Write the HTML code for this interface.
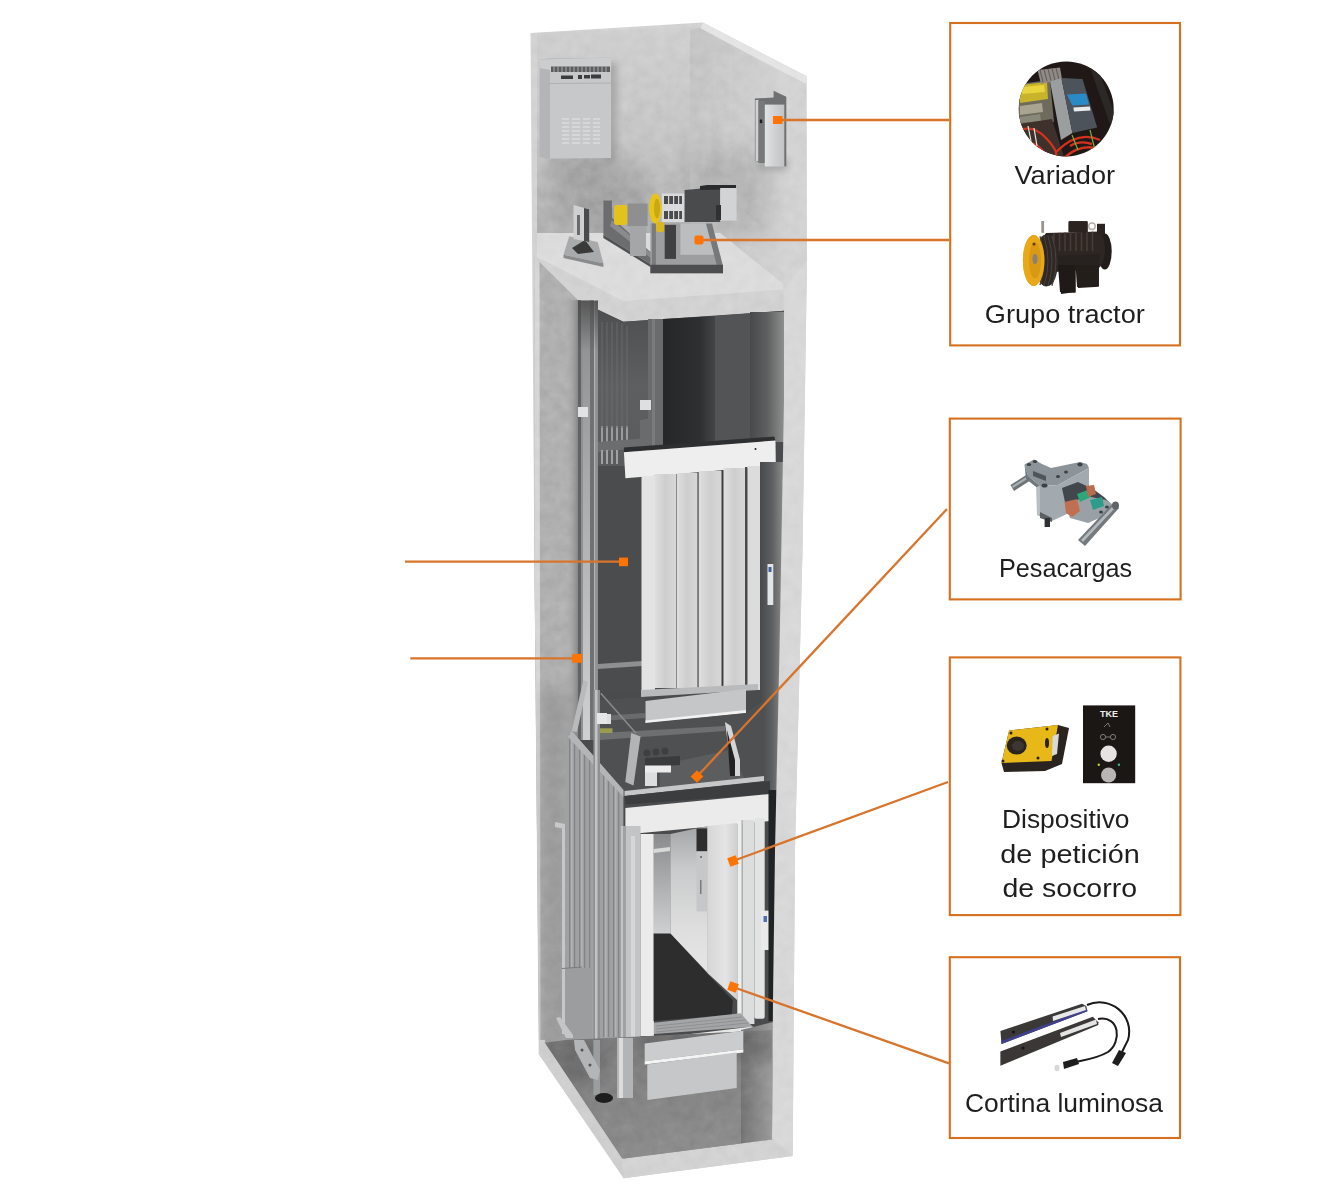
<!DOCTYPE html>
<html><head><meta charset="utf-8">
<style>
html,body{margin:0;padding:0;background:#fff;width:1334px;height:1199px;overflow:hidden}
svg{display:block}
text{font-family:"Liberation Sans",sans-serif;fill:#1e1e1e;font-size:25px}
</style></head><body>
<svg width="1334" height="1199" viewBox="0 0 1334 1199">
<defs>
  <clipPath id="cRoom"><polygon points="537,33 703,26 790,76 790,290 537,257"/></clipPath>
  <filter id="fConcrete" x="0" y="0" width="1334" height="1199" filterUnits="userSpaceOnUse" color-interpolation-filters="sRGB">
    <feTurbulence type="fractalNoise" baseFrequency="0.09" numOctaves="3" seed="11"/>
    <feColorMatrix type="matrix" values="0.13 0 0 0 0.435  0.13 0 0 0 0.435  0.13 0 0 0 0.435  0 0 0 0 1"/>
  </filter>
  <clipPath id="cTexRoom"><polygon points="530.5,33 703,22.6 806.7,76.3 807,260 783.4,310.8 623.4,321.7 534.4,257"/></clipPath>
  <clipPath id="cTexSlab"><polygon points="537,233 720,233 783.4,284 783.4,310.8 623.4,321.7 537,257"/></clipPath>
  <clipPath id="cTexLeft"><polygon points="534.4,257 578,300 578,1053 539.1,1052.4 534.4,560"/></clipPath>
  <clipPath id="cTexRight"><polygon points="784,290 807,260 802.5,550 795,850 792.7,1154.6 772,1139.4 773,1000 775,850 779.5,650 784,400"/><polygon points="538.7,1054 539.5,1040 545,1040 544.7,1042.7 622.1,1158.8 772,1139.4 792.7,1156 623.5,1178.2"/></clipPath>
  <clipPath id="cTexPit"><polygon points="544.7,1042.7 566,1040 772,1030 772,1139.4 622.1,1158.8"/></clipPath>
  <filter id="blur12" x="-50%" y="-50%" width="200%" height="200%"><feGaussianBlur stdDeviation="12"/></filter>
  <filter id="blur6" x="-50%" y="-50%" width="200%" height="200%"><feGaussianBlur stdDeviation="6"/></filter>
  <filter id="blur3" x="-50%" y="-50%" width="200%" height="200%"><feGaussianBlur stdDeviation="3"/></filter>
  <linearGradient id="gWallEdge" x1="0" y1="0" x2="1" y2="0">
    <stop offset="0" stop-color="#b0b0b0" stop-opacity="0"/><stop offset="1" stop-color="#868686"/>
  </linearGradient>
  <linearGradient id="gBack" x1="0" y1="0" x2="0" y2="1">
    <stop offset="0" stop-color="#d0d0d0"/><stop offset="0.6" stop-color="#c4c4c4"/><stop offset="1" stop-color="#b2b2b2"/>
  </linearGradient>
  <linearGradient id="gGapR" x1="0" y1="0" x2="1" y2="0">
    <stop offset="0" stop-color="#48494a"/><stop offset="0.5" stop-color="#5e5f60"/><stop offset="1" stop-color="#8e8e8e"/>
  </linearGradient>
  <linearGradient id="gPanel" x1="0" y1="0" x2="1" y2="0">
    <stop offset="0" stop-color="#dedede"/><stop offset="0.5" stop-color="#cecece"/><stop offset="1" stop-color="#d8d8d8"/>
  </linearGradient>
  <linearGradient id="gPitR" x1="0" y1="0" x2="1" y2="0">
    <stop offset="0" stop-color="#747474"/><stop offset="1" stop-color="#9c9c9c"/>
  </linearGradient>
  <linearGradient id="gPit" x1="0" y1="0" x2="0.3" y2="1">
    <stop offset="0" stop-color="#7a7a7a"/><stop offset="1" stop-color="#8c8c8c"/>
  </linearGradient>
  <linearGradient id="gBox" x1="0" y1="0" x2="1" y2="0">
    <stop offset="0" stop-color="#e2e3e4"/><stop offset="0.5" stop-color="#d0d1d2"/><stop offset="1" stop-color="#c2c3c4"/>
  </linearGradient>
  <linearGradient id="gCarBack" x1="0" y1="0" x2="0" y2="1">
    <stop offset="0" stop-color="#8a8b8c"/><stop offset="0.6" stop-color="#b4b5b6"/><stop offset="1" stop-color="#cfd0d1"/>
  </linearGradient>
  <linearGradient id="gCarSide" x1="0" y1="0" x2="0" y2="1">
    <stop offset="0" stop-color="#a4a5a6"/><stop offset="0.3" stop-color="#cacbcc"/><stop offset="0.7" stop-color="#dedede"/><stop offset="1" stop-color="#e6e6e6"/>
  </linearGradient>
  <linearGradient id="gCarDoor" x1="0" y1="0" x2="1" y2="0">
    <stop offset="0" stop-color="#d6d6d7"/><stop offset="0.6" stop-color="#e4e4e5"/><stop offset="1" stop-color="#cfcfd0"/>
  </linearGradient>
  <linearGradient id="gUpL" x1="0" y1="0" x2="0" y2="1">
    <stop offset="0" stop-color="#4e4f51"/><stop offset="0.5" stop-color="#5e5f61"/><stop offset="1" stop-color="#5a5b5d"/>
  </linearGradient>
  <linearGradient id="gUpD" x1="0" y1="0" x2="1" y2="0">
    <stop offset="0" stop-color="#262728"/><stop offset="0.7" stop-color="#2e2f30"/><stop offset="1" stop-color="#444546"/>
  </linearGradient>
  <linearGradient id="gRailV" x1="0" y1="0" x2="0" y2="1">
    <stop offset="0" stop-color="#8a8b8d"/><stop offset="0.4" stop-color="#a8a9ab"/><stop offset="1" stop-color="#cfd0d1"/>
  </linearGradient>
  <linearGradient id="gRailTop" x1="0" y1="0" x2="0" y2="1">
    <stop offset="0" stop-color="#4a4a4a" stop-opacity="0.8"/><stop offset="1" stop-color="#4a4a4a" stop-opacity="0"/>
  </linearGradient>
  <linearGradient id="gSide" x1="0" y1="0" x2="1" y2="0">
    <stop offset="0" stop-color="#c4c4c4"/><stop offset="1" stop-color="#d4d4d4"/>
  </linearGradient>
</defs>
<rect width="1334" height="1199" fill="#fff"/>

<!-- SHAFT -->
<g id="shaft">
  <!-- outer silhouette (front faces of concrete) -->
  <polygon points="530.5,33 703,22.6 806.7,76.3 807,260 802.5,550 795,850 792.7,1156 623.5,1178.2 538.7,1054 534.4,560" fill="#d3d3d3"/>
  <!-- top rim of right wall -->
  <polygon points="703,22.6 806.7,76.3 806.7,84 700,30" fill="#e4e4e4"/>
  <!-- machine room interior back wall -->
  <polygon points="537,33 700,27 690,33 690,233 537,233" fill="url(#gBack)"/>
  <!-- machine room right side wall (inner face) -->
  <polygon points="690,30 700,28 790,76 790,290 720,233 690,233" fill="url(#gSide)"/>
  <!-- shadow lower-left machine room -->
  <g clip-path="url(#cRoom)"><ellipse cx="600" cy="195" rx="50" ry="38" fill="#858585" opacity="0.38" filter="url(#blur12)"/>
  <rect x="548" y="150" width="60" height="30" fill="#909090" opacity="0.35" filter="url(#blur6)"/>
  <rect x="690" y="150" width="80" height="85" fill="#8f8f8f" opacity="0.35" filter="url(#blur12)"/></g>
  <rect x="500" y="0" width="330" height="1199" filter="url(#fConcrete)" clip-path="url(#cTexRoom)" style="mix-blend-mode:overlay"/>
  <!-- cabinet -->
  <g>
    <rect x="605" y="62" width="12" height="100" fill="#8a8a8a" opacity="0.5" filter="url(#blur3)" clip-path="url(#cRoom)"/>
    <polygon points="539.5,59.5 548,58.5 611,57.5 611,158 548,158.5 539.5,157" fill="#b3b5b7"/>
    <polygon points="550,70 611,69 611,158 550,158.5" fill="#c6c8ca"/>
    <polygon points="539.5,59.5 611,57.5 611,69 550,70 539.5,68" fill="#cbcdce"/>
    <rect x="551" y="66.5" width="59" height="5.5" fill="#5a5c5e"/>
    <g stroke="#c0c2c4" stroke-width="0.8"><line x1="554" y1="66.5" x2="554" y2="72"/><line x1="558" y1="66.5" x2="558" y2="72"/><line x1="562" y1="66.5" x2="562" y2="72"/><line x1="566" y1="66.5" x2="566" y2="72"/><line x1="570" y1="66.5" x2="570" y2="72"/><line x1="574" y1="66.5" x2="574" y2="72"/><line x1="578" y1="66.5" x2="578" y2="72"/><line x1="582" y1="66.5" x2="582" y2="72"/><line x1="586" y1="66.5" x2="586" y2="72"/><line x1="590" y1="66.5" x2="590" y2="72"/><line x1="594" y1="66.5" x2="594" y2="72"/><line x1="598" y1="66.5" x2="598" y2="72"/><line x1="602" y1="66.5" x2="602" y2="72"/><line x1="606" y1="66.5" x2="606" y2="72"/></g>
    <g fill="#3a3c3e"><rect x="561" y="75.5" width="12" height="3.5"/><rect x="578" y="75" width="4" height="4"/><rect x="584" y="75" width="6" height="3.5"/><rect x="591" y="74.5" width="10" height="4"/></g>
    <line x1="550" y1="83.5" x2="611" y2="83" stroke="#a8aaac" stroke-width="0.8"/>
    <g stroke="#dfe0e1" stroke-width="1.3">
      <line x1="562" y1="119" x2="569" y2="119"/><line x1="562" y1="123" x2="569" y2="123"/><line x1="562" y1="127" x2="569" y2="127"/><line x1="562" y1="131" x2="569" y2="131"/><line x1="562" y1="135" x2="569" y2="135"/><line x1="562" y1="139" x2="569" y2="139"/><line x1="562" y1="143" x2="569" y2="143"/>
      <line x1="572" y1="119" x2="580" y2="119"/><line x1="572" y1="123" x2="580" y2="123"/><line x1="572" y1="127" x2="580" y2="127"/><line x1="572" y1="131" x2="580" y2="131"/><line x1="572" y1="135" x2="580" y2="135"/><line x1="572" y1="139" x2="580" y2="139"/><line x1="572" y1="143" x2="580" y2="143"/>
      <line x1="583" y1="119" x2="590" y2="119"/><line x1="583" y1="123" x2="590" y2="123"/><line x1="583" y1="127" x2="590" y2="127"/><line x1="583" y1="131" x2="590" y2="131"/><line x1="583" y1="135" x2="590" y2="135"/><line x1="583" y1="139" x2="590" y2="139"/><line x1="583" y1="143" x2="590" y2="143"/>
      <line x1="593" y1="119" x2="600" y2="119"/><line x1="593" y1="123" x2="600" y2="123"/><line x1="593" y1="127" x2="600" y2="127"/><line x1="593" y1="131" x2="600" y2="131"/><line x1="593" y1="135" x2="600" y2="135"/><line x1="593" y1="139" x2="600" y2="139"/><line x1="593" y1="143" x2="600" y2="143"/>
    </g>
  </g>
  <!-- wall box (variador) -->
  <g>
    <rect x="758" y="160" width="30" height="10" fill="#8a8a8a" opacity="0.5" filter="url(#blur3)"/>
    <polygon points="754.9,98.6 773.6,97.4 773.6,90.7 786.3,96.7 786.3,166.5 754.9,161" fill="#6e7072"/>
    <rect x="755.5" y="100" width="3" height="61" fill="#cfd1d2"/>
    <rect x="758.5" y="101" width="6.3" height="62" fill="#76787a"/>
    <rect x="759.8" y="119.5" width="2.4" height="3.6" fill="#1e1e1e"/>
    <rect x="764.8" y="104.6" width="19.5" height="61.9" fill="url(#gBox)"/>
  </g>
  <!-- slab -->
  <polygon points="537,233 720,233 783.4,284 783.4,310.8 623.4,321.7 537,257" fill="#dcdcdc"/>
  <polygon points="537,257 623.4,301 783.4,289.5 783.4,310.8 623.4,321.7" fill="#d2d2d2"/>
  <rect x="500" y="0" width="330" height="1199" filter="url(#fConcrete)" clip-path="url(#cTexSlab)" style="mix-blend-mode:overlay"/>
  <!-- machine -->
  <g>
    <!-- rope hitch -->
    <polygon points="569.2,236.3 597.7,242 603.4,263.3 563.5,254.8" fill="#a9aaab"/>
    <polygon points="563.5,254.8 603.4,263.3 603.4,267 563.5,258" fill="#8a8b8c"/>
    <polygon points="572,248 585,240 594,252 578,254" fill="#3a3a3a"/>
    <polygon points="573.5,205 589.2,209.2 589.2,242 573.5,239" fill="#cfd0d1"/>
    <polygon points="584,208 589.2,209.2 589.2,242 584,241" fill="#4a4b4c"/>
    <rect x="577" y="215" width="3" height="20" fill="#6a6b6c"/>
    <!-- bedplate -->
    <polygon points="603.4,200.6 612,200.6 612,217.7 655,256 652,265 603.4,234.8" fill="#6c6d6f"/>
    <polygon points="612,220 652,254 652,259 610,226" fill="#8a8b8d"/>
    <polygon points="603.4,234.8 652,265 652,268 603.4,238" fill="#505153"/>
    <!-- cylinders -->
    <rect x="614" y="205" width="13.6" height="19.9" rx="3" fill="#e3c21e"/>
    <rect x="627.6" y="203.5" width="20" height="22.8" fill="#8e8f91"/>
    <rect x="630" y="226" width="16" height="30" fill="#a5a6a8"/>
    <!-- A-frame stand -->
    <polygon points="650.4,223.4 706,223.4 721.7,266.2 723,273.3 650.4,273.3" fill="#9d9e9f"/>
    <polygon points="680.4,223.4 706,223.4 716,254.8 680.4,254.8" fill="#bcbdbe"/>
    <polygon points="706,223.4 712,223.4 723,266 717,266" fill="#77787a"/>
    <rect x="664.7" y="224.9" width="11.3" height="34" fill="#3f4042"/>
    <rect x="651.9" y="223.4" width="4" height="44" fill="#7a7b7c"/>
    <polygon points="650.4,264.7 723,264.7 723,273.3 650.4,273.3" fill="#4d4e50"/>
    <rect x="656" y="222" width="8" height="10" rx="2" fill="#d8b820"/>
    <!-- yellow disc -->
    <ellipse cx="655.4" cy="208.5" rx="6.4" ry="15" fill="#e6c41a"/>
    <ellipse cx="657" cy="208.5" rx="3" ry="10" fill="#c9a810"/>
    <!-- brake block -->
    <rect x="661.8" y="193.5" width="22.8" height="28.5" fill="#d9dadb"/>
    <g fill="#4a4b4d"><rect x="664" y="196" width="18" height="8"/><rect x="664" y="211" width="18" height="8"/></g>
    <g fill="#d9dadb"><rect x="668" y="196" width="1.2" height="8"/><rect x="673" y="196" width="1.2" height="8"/><rect x="678" y="196" width="1.2" height="8"/><rect x="668" y="211" width="1.2" height="8"/><rect x="673" y="211" width="1.2" height="8"/><rect x="678" y="211" width="1.2" height="8"/></g>
    <!-- motor -->
    <polygon points="684.6,190 707.4,188 720.2,188 720.2,222 684.6,222" fill="#4a4b4d"/>
    <polygon points="700,186 707.4,185 736,185 736,189.2 700,190" fill="#2a2b2c"/>
    <rect x="720.2" y="188" width="16.4" height="32.6" fill="#d2d3d4"/>
    <rect x="716" y="205" width="5" height="15" fill="#303132"/>
  </g>
  <!-- ======= BELOW SLAB ======= -->
  <!-- left wall front face -->
  <polygon points="534.4,257 578,300 578,1053 539.1,1052.4 534.4,560" fill="#b0b0b0"/>
  <polygon points="534.4,257 539.5,262 540.5,1046 539.1,1052.4 534.4,560" fill="#d6d6d6"/>
  <rect x="500" y="0" width="330" height="1199" filter="url(#fConcrete)" clip-path="url(#cTexLeft)" style="mix-blend-mode:overlay"/>
  <rect x="566" y="300" width="12" height="760" fill="url(#gWallEdge)"/>
  <!-- interior base -->
  <polygon points="578,300 623.4,321.7 784.3,310.8 784,1139 624,1159.7 578,1090" fill="#4a4b4d"/>
  <!-- upper shaft interior -->
  <polygon points="598,310 623.4,321.7 650,320 650,466 598,466" fill="url(#gUpL)"/>
  <rect x="648" y="319" width="15" height="127" fill="#6a6b6d"/>
  <rect x="652" y="319" width="3" height="127" fill="#7a7b7d"/>
  <polygon points="663,319 715,316 715,446 663,446" fill="url(#gUpD)"/>
  <polygon points="715,316 784.3,310.8 784.3,440 715,446" fill="#535455"/>
  <rect x="750" y="312" width="34" height="130" fill="url(#gGapR)"/>
  <!-- ropes / cwt top -->
  <g fill="#9a9b9d"><rect x="601" y="426" width="2" height="16"/><rect x="606" y="426" width="2" height="16"/><rect x="611" y="426" width="2" height="16"/><rect x="616" y="426" width="2" height="16"/><rect x="621" y="426" width="2" height="16"/><rect x="626" y="426" width="2" height="16"/></g>
  <g stroke="#6e6f71" stroke-width="0.8"><line x1="602" y1="322" x2="602" y2="428"/><line x1="607" y1="322" x2="607" y2="428"/><line x1="612" y1="322" x2="612" y2="428"/><line x1="617" y1="322" x2="617" y2="428"/><line x1="622" y1="324" x2="622" y2="428"/><line x1="627" y1="326" x2="627" y2="428"/></g>
  <polygon points="598,442 650,438 650,447 598,452" fill="#6c6d6f"/>
  <g fill="#a0a1a3"><rect x="601" y="450" width="2" height="14"/><rect x="606" y="450" width="2" height="14"/><rect x="611" y="450" width="2" height="14"/><rect x="616" y="450" width="2" height="14"/></g>
  <polygon points="640,420 652,418 652,445 640,447" fill="#6a6b6d"/>
  <rect x="640" y="400" width="11" height="10" fill="#dedfe0"/>
  <!-- rail column -->
  <rect x="578" y="300" width="20" height="440" fill="#8f9092"/>
  <rect x="578" y="300" width="3" height="440" fill="#616264"/>
  <rect x="583" y="300" width="7" height="440" fill="url(#gRailV)"/>
  <rect x="590" y="300" width="6" height="440" fill="#707173"/>
  <rect x="594" y="300" width="1.5" height="440" fill="#b4b5b7"/>
  <rect x="578" y="301" width="20" height="50" fill="url(#gRailTop)"/>
  <rect x="578" y="407" width="10" height="10" fill="#e2e3e4"/>
  <!-- landing door area -->
  <rect x="598" y="466" width="44" height="226" fill="#4b4c4e"/>
  <polygon points="598,664 642,661 642,666 598,669" fill="#8e8f91"/>
  <!-- door header -->
  <polygon points="623.9,447.5 774.3,436.5 775.5,441 623.9,452.3" fill="#2e2f30"/>
  <polygon points="623.9,452.3 775.5,440.5 775.8,465.7 625.4,478.3" fill="#eeeeee"/>
  <!-- jambs and panels -->
  <rect x="641.5" y="476" width="13.5" height="215" fill="#e3e3e3"/>
  <rect x="655" y="474" width="21" height="214" fill="url(#gPanel)"/>
  <rect x="676" y="474" width="1.2" height="214" fill="#8a8a8a"/>
  <rect x="677" y="473" width="20.5" height="215" fill="url(#gPanel)"/>
  <rect x="697.5" y="472" width="1.5" height="216" fill="#7a7a7a"/>
  <rect x="699" y="471" width="22.7" height="217" fill="url(#gPanel)"/>
  <rect x="721.7" y="470" width="1.8" height="218" fill="#3c3c3c"/>
  <rect x="723.5" y="468" width="21.5" height="220" fill="url(#gPanel)"/>
  <circle cx="755.5" cy="449" r="1" fill="#222"/>
  <rect x="745" y="467" width="2.5" height="221" fill="#4a4a4a"/>
  <rect x="747.5" y="466" width="12.5" height="224" fill="#dcdcdc"/>
  <rect x="760" y="462" width="24" height="328" fill="url(#gGapR)"/>
  <rect x="767.5" y="564" width="5.8" height="41" fill="#e3e4e6"/>
  <rect x="768.5" y="567" width="3" height="5" fill="#4060a0"/>
  <!-- landing sill/apron -->
  <polygon points="641,690 758,684 758,690 641,697" fill="#b9babb"/>
  <polygon points="645.5,701 746,689 746,713 645.5,723.5" fill="#c5c6c7"/>
  <polygon points="645.5,720.5 746,710 746,713 645.5,723.5" fill="#f2f2f2"/>
  <!-- car top zone -->
  <polygon points="598,700 645,697 645,723 746,713 764,700 764,779 624.5,794 598,790" fill="#4f5052"/>
  <polygon points="660,765 730,750 745,780 660,790" fill="#5c5d5f"/>
  <polygon points="600,733 725,726 725,731 600,740" fill="#6e6f71"/>
  <polygon points="600,716 645,713 645,718 600,721" fill="#6a6b6d"/>
  <g fill="#3e3f41"><circle cx="647" cy="753" r="3.5"/><circle cx="656" cy="752" r="3.5"/><circle cx="665" cy="751" r="3.5"/></g>
  <polygon points="645,758 680,756 680,765 645,767" fill="#3a3b3c"/>
  <rect x="645" y="768" width="12" height="18" fill="#dcdddf"/>
  <rect x="645" y="765.5" width="26" height="7" fill="#ebebec"/>
  <polygon points="725,722 731,726 740,760 740,776 732,776" fill="#d4d5d7"/>
  <polygon points="727,730 735,760 735,776 730,776" fill="#222"/>
  <polygon points="631.2,733 640.5,736.5 633.5,785.5 625.3,782" fill="#b3b4b6"/>
  <line x1="600.8" y1="693.3" x2="635.8" y2="733" stroke="#8a8b8d" stroke-width="1.5"/>
  <rect x="598.5" y="728.3" width="14" height="4.7" fill="#9a9a50"/>
  <rect x="599" y="714" width="12" height="10" fill="#dddedf"/>
  <!-- door operator strip -->
  <polygon points="624.5,791 764,776 764,781 624.5,796" fill="#c6c7c9"/>
  <polygon points="624.5,796 770,781 770,794 626,804.4" fill="#3c3d3f"/>
  <!-- car header -->
  <polygon points="625.4,808 770.4,794 770.4,821 625.4,834.4" fill="#ebebeb"/>
  <!-- counterweight sling / frame -->
  <rect x="540" y="690" width="30" height="360" fill="#7a7a7a" opacity="0.35" filter="url(#blur6)" clip-path="url(#cTexLeft)"/>
  <polygon points="566,731 571.7,731 623.4,790 623.4,1040 566,1040" fill="#a0a1a3"/>
  <g fill="#838486">
    <rect x="569" y="734" width="1.2" height="303"/><rect x="574" y="740" width="1.2" height="297"/><rect x="579" y="745" width="1.2" height="292"/>
    <rect x="584" y="750" width="1.2" height="287"/><rect x="589" y="756" width="1.2" height="281"/>
    <rect x="603" y="772" width="1.2" height="265"/><rect x="608" y="777" width="1.2" height="260"/><rect x="613" y="783" width="1.2" height="254"/><rect x="618" y="788" width="1.2" height="249"/>
  </g>
  <g fill="#b2b3b5">
    <rect x="571" y="737" width="1.5" height="300"/><rect x="581" y="747" width="1.5" height="290"/>
    <rect x="605" y="774" width="1.5" height="263"/><rect x="615" y="785" width="1.5" height="252"/>
  </g>
  <polygon points="571.7,731 583.4,680 588,682 577,732" fill="#b9babb"/>
  <polygon points="571.7,731 623.4,790 623.4,797 568,737" fill="#b4b5b7"/>
  <rect x="593.4" y="690" width="6.6" height="350" fill="#8f9092"/>
  <rect x="595" y="690" width="2.5" height="350" fill="#c2c3c5"/>
  <rect x="597" y="713" width="10" height="11" fill="#e6e6e6"/>
  <polygon points="555,822 565,824 565,829 555,827" fill="#c8c8c8"/>
  <rect x="562" y="824" width="3" height="210" fill="#c6c7c8"/>
  <rect x="565" y="968" width="27" height="72" fill="#9c9d9f"/>
  <line x1="562" y1="968.5" x2="582" y2="967" stroke="#7a7b7d" stroke-width="1"/>
  <polygon points="556,1018 560,1017 573,1035 573,1038 566,1038" fill="#c4c5c6"/>
  <!-- car body lower -->
  <rect x="621" y="826" width="19.5" height="212" fill="#c3c4c5"/>
  <rect x="623" y="826" width="3" height="212" fill="#a0a1a2"/>
  <rect x="631" y="836" width="4" height="202" fill="#d6d7d8"/>
  <rect x="640.5" y="834" width="13.4" height="202" fill="#ebebec"/>
  <rect x="653.6" y="834" width="16.7" height="100" fill="url(#gCarBack)"/>
  <polygon points="653.6,849 670,847 670,851 653.6,853" fill="#d8d8d8"/>
  <polygon points="670.3,834 707.8,826 707.8,973 670.3,933.5" fill="url(#gCarSide)"/>
  <rect x="696.5" y="828.4" width="10.9" height="23" fill="#2e2e2f"/>
  <rect x="696.5" y="851.4" width="10.9" height="60" fill="#c6c7c8"/>
  <g fill="#7a7a7a"><rect x="700" y="856" width="2" height="2"/><rect x="700" y="880" width="1.5" height="14"/></g>
  <polygon points="653.6,933.5 670.3,933.5 706.8,973 732.9,1000.3 731.8,1014.8 653.6,1021" fill="#2d2d2e"/>
  <polygon points="707.4,826 737.3,823 737.3,1000.3 707.4,973" fill="url(#gCarDoor)"/>
  <rect x="737.3" y="821" width="5.1" height="203" fill="#eeeeee"/>
  <rect x="742.4" y="820" width="12" height="204" fill="#dcdddd"/>
  <rect x="754.4" y="818" width="10.3" height="200.7" rx="2" fill="#e2e3e3"/>
  <rect x="741.5" y="820" width="1.2" height="204" fill="#a8a9aa"/>
  <rect x="761" y="910.6" width="8.4" height="39.4" fill="#eaeaea"/>
  <rect x="763.5" y="916" width="3.5" height="6" fill="#4f6fb0"/>
  <rect x="768.5" y="790" width="8" height="231" fill="#222324"/>
  <!-- sill -->
  <polygon points="654,1022.7 740.7,1013.3 752.7,1026.7 654,1034" fill="#a4a5a6"/>
  <g stroke="#85868a" stroke-width="0.7"><line x1="656" y1="1026" x2="742" y2="1017"/><line x1="656" y1="1029" x2="745" y2="1020"/><line x1="656" y1="1032" x2="748" y2="1023"/></g>
  <polygon points="640.7,1040 752.7,1026.5 752.7,1030 640.7,1043.5" fill="#e6e6e6"/>
  <!-- pit floor -->
  <polygon points="544.7,1042.7 566,1040 772,1030 772,1139.4 622.1,1158.8" fill="url(#gPit)"/>
  <polygon points="741,1030 773,1022 772,1139.4 741,1143.4" fill="url(#gPitR)"/>
  <rect x="640" y="1028" width="135" height="30" fill="#5a5a5a" opacity="0.45" filter="url(#blur6)" clip-path="url(#cTexPit)"/>
  <ellipse cx="575" cy="1060" rx="30" ry="25" fill="#5a5a5a" opacity="0.4" filter="url(#blur6)" clip-path="url(#cTexPit)"/>
  <rect x="500" y="0" width="330" height="1199" filter="url(#fConcrete)" clip-path="url(#cTexPit)" style="mix-blend-mode:overlay" opacity="0.6"/>
  <!-- pit left rim front (diagonal) -->
  <polygon points="538.7,1054 539.5,1040 545,1040 544.7,1042.7 622.1,1158.8 623.5,1176.9" fill="#cfcfcf"/>
  <polygon points="622.1,1158.8 772,1139.4 792.7,1156 623.5,1178.2" fill="#d3d3d3"/>
  <!-- car apron -->
  <polygon points="644.7,1043.5 743.3,1030.7 743.3,1049.3 644.7,1061.3" fill="#cbcccd"/>
  <polygon points="644.7,1061.3 743.3,1049.3 743.3,1052.5 644.7,1064.5" fill="#f4f4f4"/>
  <polygon points="647.3,1064.5 736.7,1052.5 736.7,1088 647.3,1100" fill="#c6c7c8"/>
  <!-- buffers -->
  <rect x="617" y="1038" width="16" height="60" fill="#b3b4b6"/>
  <rect x="619" y="1038" width="4" height="60" fill="#dcdcdd"/>
  <rect x="593.4" y="1040" width="6.6" height="55" fill="#9c9d9f"/>
  <ellipse cx="604" cy="1098" rx="9" ry="5" fill="#1e1e1e"/>
  <polygon points="574,1040 584,1040 600,1070 598,1080 590,1078 575,1050" fill="#b4b5b6"/>
  <g fill="#555"><circle cx="582" cy="1050" r="1.5"/><circle cx="590" cy="1065" r="1.5"/></g>
  <!-- right wall front face -->
  <polygon points="784,290 807,260 802.5,550 795,850 792.7,1154.6 772,1139.4 773,1000 775,850 779.5,650 784,400" fill="#d8d8d8"/>
  <!-- concrete texture right+rim -->
  <rect x="500" y="0" width="330" height="1199" filter="url(#fConcrete)" clip-path="url(#cTexRight)" style="mix-blend-mode:overlay"/>
</g>

<!-- ORANGE LINES -->
<g stroke="#d8742c" stroke-width="2.3" fill="none">
  <line x1="782" y1="120" x2="949" y2="120"/>
  <line x1="699" y1="240" x2="949" y2="240"/>
  <line x1="697" y1="776.5" x2="947" y2="509"/>
  <line x1="733" y1="861" x2="948" y2="782"/>
  <line x1="733" y1="987" x2="949" y2="1063.4"/>
  <line x1="405" y1="561.7" x2="620" y2="561.7"/>
  <line x1="410.3" y1="658.4" x2="575" y2="658.4"/>
</g>
<g fill="#ff7300">
  <rect x="773" y="116" width="9.5" height="8"/>
  <rect x="694.5" y="235.5" width="9" height="9" rx="2"/>
  <rect x="692.5" y="772" width="9" height="9" transform="rotate(45 697 776.5)"/>
  <rect x="728.5" y="856.5" width="9" height="9" transform="rotate(-20 733 861)"/>
  <rect x="728.5" y="982.5" width="9" height="9" transform="rotate(20 733 987)"/>
  <rect x="619" y="557.6" width="9" height="8.6"/>
  <rect x="572.2" y="653.9" width="9.9" height="8.9"/>
</g>

<!-- BOXES -->
<g fill="none" stroke="#d6701f" stroke-width="2.1">
  <rect x="950.2" y="23" width="229.8" height="322.4"/>
  <rect x="949.8" y="418.6" width="230.8" height="180.8"/>
  <rect x="949.8" y="657.4" width="230.6" height="257.7"/>
  <rect x="949.8" y="957.2" width="230.2" height="180.8"/>
</g>

<!-- THUMBNAILS -->
<defs>
  <clipPath id="cCirc"><circle cx="1066.2" cy="108.9" r="47.5"/></clipPath>
</defs>
<g id="th-variador" clip-path="url(#cCirc)">
  <rect x="1018" y="60" width="97" height="98" fill="#1f1816"/>
  <polygon points="1019,84 1050,80 1054,122 1019,126" fill="#6e6a5c"/>
  <polygon points="1020,85 1047,82 1048,99 1020,103" fill="#c8b42a"/>
  <polygon points="1022,87 1044,85 1045,92 1022,94" fill="#e8d43c"/>
  <polygon points="1020,106 1042,103 1043,112 1020,115" fill="#a8a490"/>
  <polygon points="1020,117 1040,114 1041,121 1020,123" fill="#8a8878"/>
  <polygon points="1019,124 1052,119 1064,157 1019,157" fill="#3e302a"/>
  <polygon points="1037.5,70 1060,67.5 1062,79 1051,81.5 1041,84" fill="#8f8a86"/>
  <g stroke="#5a5450" stroke-width="0.9"><line x1="1040" y1="70" x2="1043" y2="82"/><line x1="1044" y1="69.5" x2="1047" y2="81"/><line x1="1048" y1="69" x2="1051" y2="80.5"/><line x1="1052" y1="68.5" x2="1055" y2="80"/><line x1="1056" y1="68" x2="1059" y2="79.5"/></g>
  <polygon points="1050,81.5 1061.4,77.9 1072.4,133 1061,140" fill="#9a9e9f"/>
  <polygon points="1061.4,77.9 1082.5,78.9 1097.2,127.5 1072.4,133" fill="#4d535b"/>
  <polygon points="1066.9,94.4 1086,93.5 1089,104.5 1072.4,105.5" fill="#2a8ac8"/>
  <polygon points="1073.3,107.5 1089.8,106.5 1090.5,110.5 1074,111.5" fill="#e8eaec"/>
  <polygon points="1090,68 1097,66 1116,118 1110,124" fill="#2c2826"/>
  <g stroke="#d2321e" stroke-width="2.4" fill="none"><path d="M1020,130 q14,-5 26,8 t10,18"/><path d="M1024,144 q10,-4 20,8"/><path d="M1056,152 q22,-22 44,-12"/><path d="M1064,158 q18,-16 38,-8"/><path d="M1070,146 q10,-6 22,-2"/></g>
  <g stroke="#e8e8e0" stroke-width="1.2" fill="none"><path d="M1028,126 l4,20"/><path d="M1034,128 l3,18"/></g>
  <g stroke="#7ab040" stroke-width="1.2" fill="none"><path d="M1090,130 l5,20"/><path d="M1072,135 l6,15"/></g>
</g>
<g id="th-motor">
  <!-- feet -->
  <polygon points="1058.3,262 1075.5,262 1075.5,292 1061,294" fill="#1e1917"/>
  <polygon points="1077,262 1098.8,262 1098.8,286.7 1078,288" fill="#221c19"/>
  <polygon points="1062,272 1072,272 1072,290 1063,291" fill="#2e2724"/>
  <!-- end cap -->
  <ellipse cx="1104.8" cy="251.4" rx="6.9" ry="18" fill="#221c1a"/>
  <!-- body -->
  <path d="M1046,233 L1100,231.5 Q1106,240 1105,252 Q1104,264 1098,269 L1050,272 Q1042,262 1042,250 Q1042,238 1046,233 Z" fill="#2d2623"/>
  <path d="M1050,256 L1100,254 L1098,269 L1050,272 Z" fill="#272120"/>
  <g stroke="#463d38" stroke-width="1.6"><line x1="1054" y1="233" x2="1054" y2="251"/><line x1="1059.5" y1="232.8" x2="1059.5" y2="251"/><line x1="1065" y1="232.6" x2="1065" y2="251"/><line x1="1070.5" y1="232.4" x2="1070.5" y2="251"/><line x1="1076" y1="232.2" x2="1076" y2="251"/><line x1="1081.5" y1="232" x2="1081.5" y2="251"/><line x1="1087" y1="231.8" x2="1087" y2="251"/><line x1="1092.5" y1="231.6" x2="1092.5" y2="251"/></g>
  <rect x="1068.6" y="221.2" width="19" height="11" rx="1.5" fill="#2a2320"/>
  <rect x="1097.9" y="224.7" width="7" height="10.3" fill="#2a2320"/>
  <circle cx="1091.9" cy="226.4" r="3.3" fill="none" stroke="#c8c0b8" stroke-width="1.3"/>
  <rect x="1041.5" y="221" width="2.6" height="12" fill="#a8a29c"/>
  <!-- sheave -->
  <ellipse cx="1046" cy="260.5" rx="11" ry="26" fill="#2f2824"/>
  <g stroke="#54493f" stroke-width="1" fill="none"><path d="M1040,236 q9,24 0,49"/><path d="M1044,235.5 q9,25 0,50"/><path d="M1048,235.5 q9,25 0,50"/><path d="M1052,236 q8,24 0,49"/></g>
  <!-- yellow disc -->
  <ellipse cx="1033.7" cy="260.5" rx="10.8" ry="25.5" fill="#eaa81e"/>
  <ellipse cx="1035.5" cy="261" rx="6.5" ry="18" fill="#dc9816"/>
  <ellipse cx="1035.5" cy="259" rx="2.6" ry="5.5" fill="#8c8276"/>
  <circle cx="1032.5" cy="245" r="1.6" fill="#5a3a10"/>
</g>
  <polygon points="1058,265 1075.5,265 1075.5,292.8 1060,292" fill="#1f1a18"/>
  <polygon points="1075.5,265 1098.8,265 1098.8,286 1077,287" fill="#241e1b"/>
  <rect x="1068.6" y="221.2" width="19" height="11" fill="#2a2320"/>
  <rect x="1097" y="223.8" width="8" height="11" fill="#2a2320"/>
  <circle cx="1092" cy="226" r="3.2" fill="none" stroke="#b8b0a8" stroke-width="1.2"/>
  <rect x="1041.5" y="221" width="2.5" height="11" fill="#9a948e"/>
  <ellipse cx="1048" cy="261" rx="10" ry="25" fill="#2f2824"/>
  <g stroke="#4a423c" stroke-width="1" fill="none"><path d="M1040,237 q8,24 0,48"/><path d="M1044,236 q8,25 0,50"/><path d="M1048,236 q8,25 0,50"/><path d="M1052,236 q8,25 0,50"/></g>
  <ellipse cx="1033.7" cy="260.5" rx="10.8" ry="25.5" fill="#e8a818"/>
  <ellipse cx="1035" cy="260.5" rx="6" ry="18" fill="#d89a14"/>
  <ellipse cx="1035" cy="259" rx="2.5" ry="5" fill="#8a8078"/>
  <circle cx="1034" cy="244" r="1.5" fill="#5a3a10"/>
</g>
<g id="th-pesa">
  <!-- left pin -->
  <polygon points="1010.5,485 1027,474.5 1031,480 1014,491" fill="#6e7478"/>
  <polygon points="1012,486 1027,476.5 1028,478.5 1013,488" fill="#a9afb3"/>
  <!-- top end block + beam top face -->
  <polygon points="1024.5,464.5 1034,459.5 1042,464 1051,468 1080,462 1087,464 1089,468 1058,485 1040,486 1028,476" fill="#8c949a"/>
  <polygon points="1024.5,464.5 1028,476 1040,486 1040,490 1026,479" fill="#6f777c"/>
  <!-- main front face -->
  <polygon points="1036.5,487 1040,486 1058,485 1089,468 1089,492 1084,506 1052,521 1037,515" fill="#a3aaaf"/>
  <polygon points="1036.5,487 1040,486 1040,514 1037,515" fill="#b9bfc3"/>
  <!-- holes -->
  <g fill="#3c4246"><ellipse cx="1029" cy="464.5" rx="2.2" ry="1.6"/><ellipse cx="1035" cy="461.5" rx="2.2" ry="1.6"/><ellipse cx="1080" cy="464.5" rx="2.6" ry="1.9"/><ellipse cx="1066" cy="472" rx="2" ry="1.5"/><ellipse cx="1058" cy="476.5" rx="2" ry="1.5"/><ellipse cx="1044.5" cy="485.5" rx="3" ry="2"/></g>
  <polygon points="1033,471 1046,476 1046,481 1033,476" fill="#4e565c"/>
  <!-- dark gap + chips bar -->
  <polygon points="1062,488 1078,482 1093,489 1104,497 1110,503 1086,514 1066,507" fill="#41474d"/>
  <polygon points="1066,505 1086,496 1106,500 1112,504 1104,516 1088,523 1070,518" fill="#9aa1a6"/>
  <polygon points="1077,494 1088,490 1091,497 1080,502" fill="#2ba878"/>
  <polygon points="1090,500 1102,497 1104,506 1093,510" fill="#2d9c8a"/>
  <polygon points="1064.5,502 1077,499 1080,511 1072,517 1066,513" fill="#c07050"/>
  <polygon points="1086,486 1094,485 1096,494 1088,497" fill="#b96b4c"/>
  <g fill="#3c4246"><ellipse cx="1107" cy="507" rx="2" ry="1.6"/><ellipse cx="1101" cy="512" rx="2" ry="1.6"/></g>
  <!-- right pin -->
  <polygon points="1078,540 1112,504 1119,508 1085,546" fill="#73797d"/>
  <polygon points="1081,540 1113,506 1115,508 1083,542" fill="#b3b9bd"/>
  <ellipse cx="1115.5" cy="505.5" rx="3.5" ry="4" fill="#5e6468"/>
  <!-- bolt -->
  <rect x="1044.6" y="517" width="5.4" height="10" fill="#2e3236"/>
  <polygon points="1040,512 1052,518 1052,522 1040,518" fill="#5a6064"/>
</g>
  <rect x="1045" y="518" width="5" height="9" fill="#2e3034"/>
</g>
<g id="th-disp">
  <polygon points="1001.5,763 1009.1,730.4 1058,725 1069,728 1062,764 1045,771 1004,772" fill="#2a2320"/>
  <polygon points="1001.5,763 1009.1,730.4 1058,725 1051.5,760.9" fill="#e8b818"/>
  <ellipse cx="1016.7" cy="745.6" rx="10" ry="9" fill="#2a2420"/>
  <ellipse cx="1018" cy="746" rx="6" ry="5" fill="#3e3630"/>
  <polygon points="1052.6,736 1059,733.5 1057,754 1052,756" fill="#d8d8d8"/>
  <g fill="#2a2420"><circle cx="1011" cy="733" r="1.5"/><circle cx="1047" cy="729" r="1.5"/><circle cx="1038" cy="758" r="1.5"/><circle cx="1003" cy="761" r="1.5"/></g>
  <ellipse cx="1047" cy="743" rx="2" ry="5" fill="#2a2420"/>
  <rect x="1083" y="705.4" width="52.2" height="77.8" fill="#1b1715"/>
  <text x="1100" y="716.5" style="font-size:9px;font-weight:bold;fill:#f0f0f0" textLength="18" lengthAdjust="spacingAndGlyphs">TKE</text>
  <g fill="none" stroke="#8a8684" stroke-width="0.9"><path d="M1104,727 l4,-4 l2,4"/><circle cx="1103" cy="737" r="2.6"/><line x1="1106" y1="737" x2="1110" y2="737"/><circle cx="1113" cy="737" r="2.6"/></g>
  <circle cx="1108.6" cy="753.8" r="8.2" fill="#e6e4e2"/>
  <circle cx="1098.8" cy="764.7" r="1.2" fill="#b8d040"/>
  <circle cx="1118.9" cy="764.7" r="1.2" fill="#40b890"/>
  <circle cx="1108.6" cy="775" r="7.6" fill="#b8b6b4"/>
</g>
<g id="th-cortina">
  <polygon points="1000.4,1030.9 1082,1003.7 1086.3,1005.9 1087.4,1011.3 1001.5,1043.9" fill="#3b3838"/>
  <polygon points="1001.5,1041 1087,1009 1087.4,1011.3 1001.5,1043.9" fill="#404090"/>
  <polygon points="1052.6,1016.5 1085,1006 1086,1010 1053,1021" fill="#e8e8e8"/>
  <polygon points="1000.4,1051.5 1092.8,1016.7 1098.3,1022.2 1098.3,1025 1000.4,1065.7" fill="#3b3737"/>
  <polygon points="1060,1033 1096,1019.5 1097,1024 1061,1037" fill="#e4e4e4"/>
  <circle cx="1013.5" cy="1032" r="1.6" fill="#151515"/>
  <circle cx="1023" cy="1048" r="1.6" fill="#151515"/>
  <g fill="none" stroke="#1a1a1a" stroke-width="2">
    <path d="M1087,1005 C1110,995 1135,1015 1128,1040 L1122,1052"/>
    <path d="M1098,1019 C1120,1015 1122,1042 1108,1052 C1098,1058 1085,1060 1076,1062"/>
  </g>
  <polygon points="1119,1050 1126,1053 1118,1066 1112,1063" fill="#1e1e1e"/>
  <polygon points="1063,1062 1077,1058 1079,1064 1064,1069" fill="#1e1e1e"/>
  <ellipse cx="1057" cy="1068" rx="2.5" ry="3.2" fill="#d8d8d8"/>
</g>

<!-- LABELS -->
<g style="will-change:transform">
<text x="1014.5" y="183.7" textLength="100.5" lengthAdjust="spacingAndGlyphs">Variador</text>
<text x="984.8" y="323.3" textLength="160" lengthAdjust="spacingAndGlyphs">Grupo tractor</text>
<text x="999" y="577" textLength="133" lengthAdjust="spacingAndGlyphs">Pesacargas</text>
<text x="1002" y="827.9" textLength="127.5" lengthAdjust="spacingAndGlyphs">Dispositivo</text>
<text x="1000.3" y="862.7" textLength="139.5" lengthAdjust="spacingAndGlyphs">de petición</text>
<text x="1002.5" y="897.3" textLength="134.5" lengthAdjust="spacingAndGlyphs">de socorro</text>
<text x="965" y="1112.2" textLength="198" lengthAdjust="spacingAndGlyphs">Cortina luminosa</text>

</g>
</svg>
</body></html>
